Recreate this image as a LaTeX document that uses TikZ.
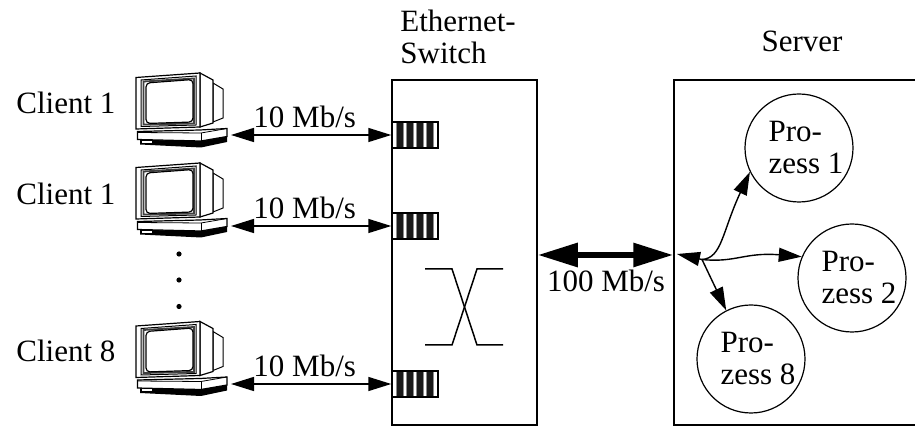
\documentclass[tikz,border=0pt]{standalone}
\usepackage{fontspec}
\setmainfont{Liberation Serif}
\usetikzlibrary{arrows.meta,positioning,calc}
\tikzset{
  labeltext/.style={
    font=\fontsize{15.5}{16}\selectfont, align=left, inner sep=0pt, anchor=base west
  },
  rackbox/.style={
    rectangle, draw=black, line width=0.75pt,
    minimum height=172.5pt, inner sep=0pt
  },
  portbox/.style={
    rectangle, draw=black, line width=0.75pt, fill=white,
    minimum width=23pt, minimum height=13pt, inner sep=0pt,
    path picture={
      \foreach \barpos in {3.5,13.5,23.5,33.5} {
        \fill[black!45] ($(path picture bounding box.west)+(\barpos,-20)$) rectangle ++(8,40);
        \fill[black!90] ($(path picture bounding box.west)+(\barpos+1,-20)$) rectangle ++(6,40);
      }
    }
  },
  procbox/.style={
    circle, draw=black, line width=0.6pt, minimum size=54pt, inner sep=0pt,
    font=\fontsize{15.5}{16}\selectfont, align=left
  },
  dotmark/.style={circle, fill=black, minimum size=2.6pt, inner sep=0pt},
  linkarrow/.style={
    {Triangle[length=11.5pt,width=7pt]}-{Triangle[length=11.5pt,width=7pt]},
    line width=0.75pt
  },
  trunkarrow/.style={
    {Triangle[length=20pt,width=11.5pt]}-{Triangle[length=20pt,width=11.5pt]},
    line width=3pt
  },
  procarrow/.style={
    -{Triangle[length=11.5pt,width=7pt]}, line width=0.7pt
  },
  pics/monitor/.style={
    code={
      % rear of the tube
      \draw[line width=0.5pt, fill=white] (93,23) -- (103,29) -- (103,58) -- (93,62) -- cycle;
      \draw[line width=0.6pt, fill=white] (80,13) -- (93,20) -- (93,63) -- (80,67) -- cycle;
      % front frame
      \draw[line width=0.6pt, fill=white] (16,17.5) -- (80,13) -- (80,67) -- (16,69) -- cycle;
      \draw[line width=0.5pt] (21,20) -- (76,16) -- (76,65) -- (21,66.5) -- cycle;
      \draw[line width=0.9pt, black!75] (23.5,21.5) -- (74,18.5) -- (74,63.5) -- (23.5,64.5) -- cycle;
      \draw[line width=0.6pt, rounded corners=2pt, fill=white] (26,23) -- (73,19.5) -- (73,62) -- (26,63.5) -- cycle;
      % base
      \fill[black] (20,79) -- (81,80) -- (107,76) -- (107,82) -- (81,87.5) -- (20,84.5) -- cycle;
      \draw[line width=0.6pt, fill=white] (17.5,71.5) -- (80,70) -- (107,68.5) -- (107,76.5) -- (81,81) -- (17.5,79.5) -- cycle;
      \draw[line width=0.4pt] (17.5,72.5) -- (81,73) -- (107,68.5);
      \draw[line width=0.4pt] (81,73) -- (81,81);
      \fill[white] (22,81) rectangle (32,83);
      \coordinate (-link) at (112,75);
    }
  },
}
\begin{document}
\begin{tikzpicture}[x=0.5pt, y=-0.5pt]
  \useasboundingbox (0,0) rectangle (915,426);

  % Clients
  \pic (pc1) at (120,60) {monitor};
  \pic (pc2) at (120,150) {monitor};
  \pic (pc3) at (120,308.5) {monitor};
  \node[labeltext] (client1) at (16,114) {Client 1};
  \node[labeltext] (client2) at (16,205) {Client 1};
  \node[labeltext] (client3) at (16,362) {Client 8};
  \node[dotmark] (dot1) at (179,254) {};
  \node[dotmark] (dot2) at (179,280) {};
  \node[dotmark] (dot3) at (179,306.5) {};

  % Switch
  \node[rackbox, minimum width=72.5pt] (switch) at (464.5,252.5) {};
  \node[labeltext] (switchlabel) at (400,64) {Ethernet-\\Switch};
  \node[portbox] (port1) at (415,135) {};
  \node[portbox] (port2) at (415,226) {};
  \node[portbox] (port3) at (415,384) {};
  \draw[line width=0.75pt] (425,269) coordinate (xa) -- (452,269) -- (477,345) -- (503,345) coordinate (xb);
  \draw[line width=0.75pt] (425,345) coordinate (xc) -- (452,345) -- (477,269) -- (503,269) coordinate (xd);

  % Server
  \node[rackbox, minimum width=130pt] (server) at (804,252.5) {};
  \node[labeltext, anchor=base] (serverlabel) at (802,52) {Server};
  \node[procbox] (proc1) at (799,148) {\hspace*{7pt}Pro-\\\hspace*{7pt}zess 1};
  \node[procbox] (proc2) at (852,278) {\hspace*{7pt}Pro-\\\hspace*{7pt}zess 2};
  \node[procbox] (proc8) at (751,359) {\hspace*{7pt}Pro-\\\hspace*{7pt}zess 8};

  % Links
  \draw[linkarrow] (pc1-link |- port1.west) ++(-1,0) coordinate (end1) (end1) -- node[labeltext, anchor=base, pos=0.46, yshift=3.5pt] (rate1) {10 Mb/s} (port1.west);
  \draw[linkarrow] (pc2-link |- port2.west) ++(-1,0) coordinate (end2) (end2) -- node[labeltext, anchor=base, pos=0.46, yshift=3.5pt] (rate2) {10 Mb/s} (port2.west);
  \draw[linkarrow] (pc3-link |- port3.west) ++(-1,0) coordinate (end3) (end3) -- node[labeltext, anchor=base, pos=0.46, yshift=3.5pt] (rate3) {10 Mb/s} (port3.west);
  \draw[trunkarrow] ([yshift=-1.25pt]switch.east) -- ([yshift=-1.25pt]server.west |- switch.east);
  \node[labeltext, anchor=base] (rate4) at (606,292) {100 Mb/s};

  % Server fan-out
  \coordinate (hub) at (677,254);
  \coordinate (fork) at (702,259.5);
  \draw[procarrow, -, {Triangle[length=11.5pt,width=7pt]}-] (hub) -- (fork);
  \draw[procarrow] (fork) .. controls (722,258) and (722,232) .. (proc1.206);
  \draw[procarrow] (fork) .. controls (735,263) and (745,252) .. (proc2.157);
  \draw[procarrow] (fork) -- (proc8.117);
\end{tikzpicture}
\end{document}
